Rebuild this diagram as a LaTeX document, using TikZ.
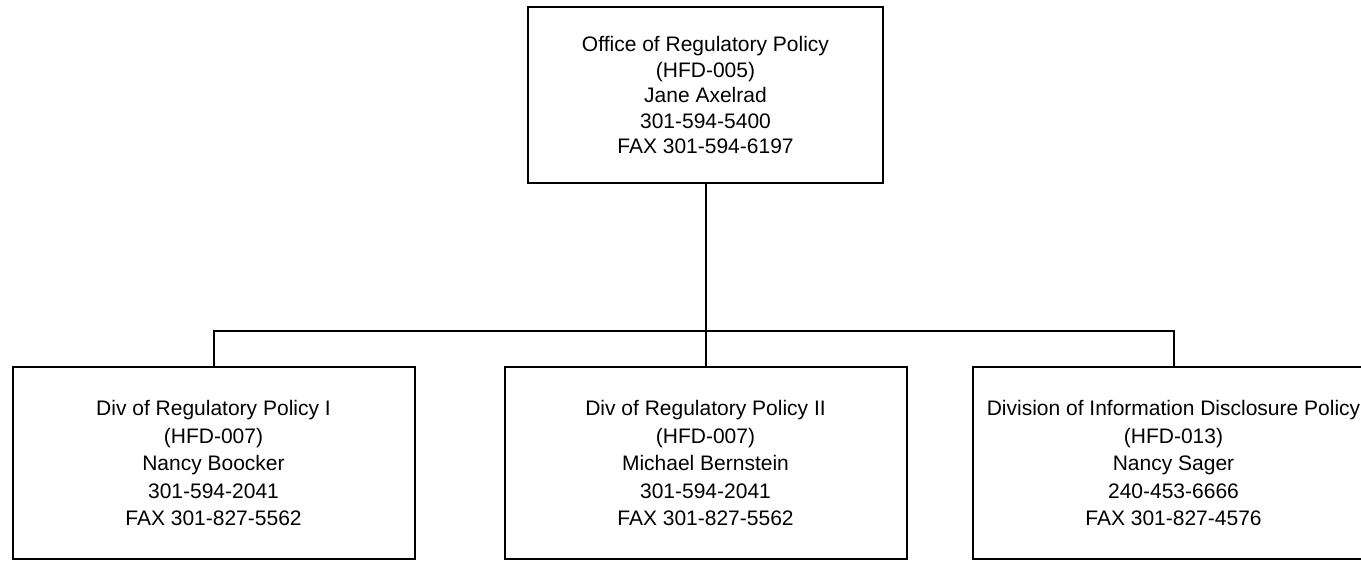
\documentclass[tikz,border=0pt]{standalone}
\usepackage{fontspec}
\setmainfont{Liberation Sans}
\begin{document}
\begin{tikzpicture}[x=1pt,y=-1pt,
  orgbox/.style={draw=black,line width=2pt,rectangle,inner sep=0pt,align=center},
  topbox/.style={orgbox,minimum width=355pt,minimum height=176pt,font=\fontsize{21}{25.5}\selectfont},
  subbox/.style={orgbox,minimum width=402pt,minimum height=192pt,font=\fontsize{21}{27.5}\selectfont},
  link/.style={line width=2pt}]
\useasboundingbox (0,0) rectangle (1361,560);
\clip (0,0) rectangle (1361,560);
\node[topbox] (top) at (705.5,95) {Office of Regulatory Policy\\(HFD-005)\\Jane Axelrad\\301-594-5400\\FAX 301-594-6197};
\node[subbox] (d1) at (213.5,463) {Div of Regulatory Policy I\\(HFD-007)\\Nancy Boocker\\301-594-2041\\FAX 301-827-5562};
\node[subbox] (d2) at (705.5,463) {Div of Regulatory Policy II\\(HFD-007)\\Michael Bernstein\\301-594-2041\\FAX 301-827-5562};
\node[subbox] (d3) at (1173.5,463) {Division of Information Disclosure Policy\\(HFD-013)\\Nancy Sager\\240-453-6666\\FAX 301-827-4576};
\coordinate (bus) at (705.5,331);
\draw[link] (top.south) -- (bus);
\draw[link] (bus) -| (d1.north);
\draw[link] (bus) -| (d3.north);
\draw[link] (bus) -- (d2.north);
\end{tikzpicture}
\end{document}
